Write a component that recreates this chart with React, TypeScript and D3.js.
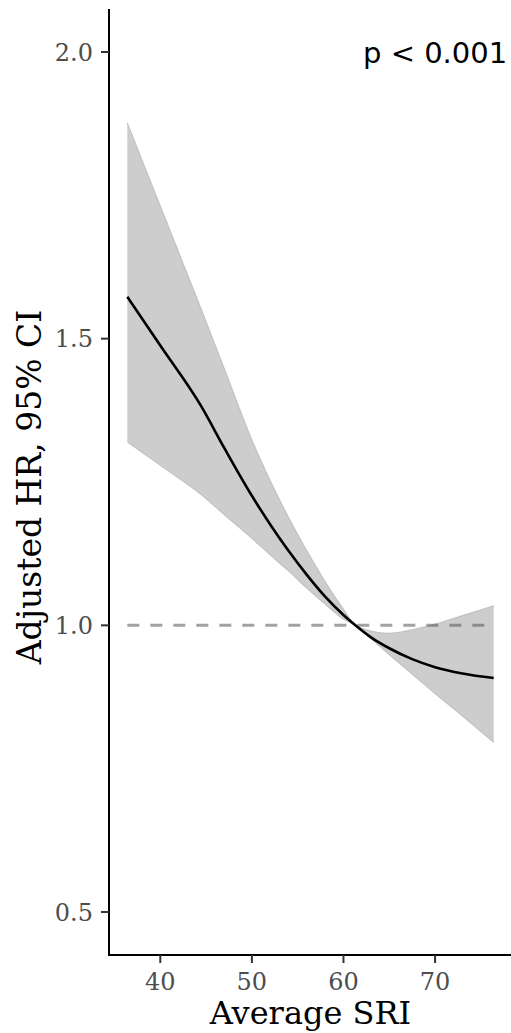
import React from "react";
import * as d3 from "d3";

const sri = [36.4, 40, 44.4, 47, 50, 52, 54, 56, 58, 60, 61.3, 63, 65, 67.5, 70, 73, 76.4];
const hr = [1.573, 1.488, 1.384, 1.309, 1.226, 1.176, 1.13, 1.088, 1.05, 1.018, 1.0, 0.979, 0.96, 0.941, 0.927, 0.916, 0.908];
const upper = [1.876, 1.731, 1.554, 1.447, 1.323, 1.252, 1.188, 1.13, 1.076, 1.028, 1.0, 0.99, 0.986, 0.992, 1.002, 1.017, 1.034];
const lower = [1.32, 1.279, 1.229, 1.193, 1.152, 1.123, 1.095, 1.065, 1.037, 1.011, 1.0, 0.977, 0.949, 0.915, 0.881, 0.842, 0.796];
const xTicks = [40, 50, 60, 70];
const yTicks = [0.5, 1.0, 1.5, 2.0];
const pLabel = "p < 0.001";
const xTitle = "Average SRI";
const yTitle = "Adjusted HR, 95% CI";

const W = 511;
const H = 1033;
const left = 109;
const right = 512;
const top = 9;
const bottom = 955;

export default function App() {
  const xMin = d3.min(sri)!;
  const xMax = d3.max(sri)!;
  const xPad = (xMax - xMin) * 0.05;
  const x = d3.scaleLinear().domain([xMin - xPad, xMax + xPad]).range([left, right]);
  const y = d3.scaleLinear().domain([0.425, 2.075]).range([bottom, top]);

  const rows = sri.map((s, i) => ({ s, hr: hr[i], up: upper[i], lo: lower[i] }));
  const area = d3
    .area<any>()
    .x((d) => x(d.s))
    .y0((d) => y(d.lo))
    .y1((d) => y(d.up))
    .curve(d3.curveMonotoneX);
  const upLine = d3.line<any>().x((d) => x(d.s)).y((d) => y(d.up)).curve(d3.curveMonotoneX);
  const loLine = d3.line<any>().x((d) => x(d.s)).y((d) => y(d.lo)).curve(d3.curveMonotoneX);
  const line = d3.line<any>().x((d) => x(d.s)).y((d) => y(d.hr)).curve(d3.curveMonotoneX);

  const serif = "'DejaVu Serif', serif";
  const sans = "'DejaVu Sans', sans-serif";

  return (
    <svg
      width={W}
      height={H}
      style={{ position: "absolute", left: 0, top: 0, background: "#fff" }}
    >
      <path d={area(rows)!} fill="#cdcdcd" stroke="none" />
      <path d={upLine(rows)!} fill="none" stroke="#c2c2c2" strokeWidth={1.2} />
      <path d={loLine(rows)!} fill="none" stroke="#c2c2c2" strokeWidth={1.2} />
      <line
        x1={x(xMin)}
        x2={x(xMax)}
        y1={y(1)}
        y2={y(1)}
        stroke="#555"
        strokeOpacity={0.55}
        strokeWidth={3}
        strokeDasharray="12 11"
      />
      <path d={line(rows)!} fill="none" stroke="#000" strokeWidth={2.6} />

      <line x1={left} x2={left} y1={top} y2={bottom + 1} stroke="#000" strokeWidth={2} />
      <line x1={left - 1} x2={W} y1={bottom} y2={bottom} stroke="#000" strokeWidth={2} />

      {yTicks.map((t) => (
        <g key={t}>
          <line x1={left - 8} x2={left} y1={y(t)} y2={y(t)} stroke="#333" strokeWidth={2} />
          <text
            x={left - 16}
            y={y(t)}
            dy="0.36em"
            textAnchor="end"
            fontFamily={serif}
            fontSize={24}
            fill="#4d4d4d"
          >
            {t.toFixed(1)}
          </text>
        </g>
      ))}
      {xTicks.map((t) => (
        <g key={t}>
          <line x1={x(t)} x2={x(t)} y1={bottom} y2={bottom + 8} stroke="#333" strokeWidth={2} />
          <text
            x={x(t)}
            y={990}
            textAnchor="middle"
            fontFamily={serif}
            fontSize={24}
            fill="#4d4d4d"
          >
            {t}
          </text>
        </g>
      ))}

      <text
        x={(left + right) / 2}
        y={1024}
        textAnchor="middle"
        fontFamily={serif}
        fontSize={32}
        fill="#000"
      >
        {xTitle}
      </text>
      <text
        transform={`translate(41, 487) rotate(-90)`}
        textAnchor="middle"
        fontFamily={serif}
        fontSize={33}
        fill="#000"
      >
        {yTitle}
      </text>
      <text x={363} y={63} fontFamily={sans} fontSize={29} fill="#000">
        {pLabel}
      </text>
    </svg>
  );
}
